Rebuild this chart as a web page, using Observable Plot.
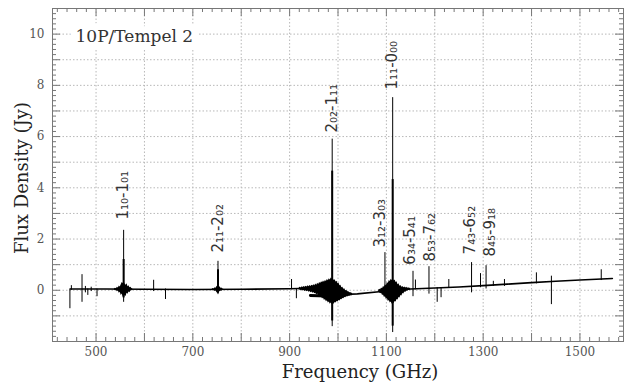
<!DOCTYPE html>
<html><head><meta charset="utf-8">
<script src="https://cdn.jsdelivr.net/npm/d3@7"></script>
<script src="https://cdn.jsdelivr.net/npm/@observablehq/plot@0.6"></script>
<style>body{margin:0;background:#fff;}</style>
</head><body><div id="chart"></div>
<script>
// ---- data ----
const titleText = "10P/Tempel 2";
const xLabel = "Frequency (GHz)";
const yLabel = "Flux Density (Jy)";
const xLabelTicks = [500, 700, 900, 1100, 1300, 1500];
const yLabelTicks = [0, 2, 4, 6, 8, 10];

// continuum / baseline of the spectrum
const baseFreq = [447, 480, 520, 600, 700, 800, 900, 940, 985, 991, 1040, 1090, 1113, 1150, 1200, 1250, 1300, 1350, 1400, 1450, 1500, 1567];
const baseFlux = [0.05, 0.05, 0.05, 0.04, 0.03, 0.04, 0.06, 0.08, 0.06, -0.18, -0.14, -0.05, 0.0, 0.05, 0.09, 0.13, 0.18, 0.24, 0.30, 0.35, 0.40, 0.46];

// second (overlapping) band segment
const bandFreq = [943, 960, 975, 988];
const bandFlux = [-0.20, -0.21, -0.22, -0.20];

// narrow spectral spikes
const spikeFreq = [446, 449, 471, 478, 483, 490, 502, 557, 619, 643.5, 752, 904, 914, 988, 1097, 1113, 1155, 1160, 1188, 1205, 1213, 1229, 1276, 1294.5, 1306, 1321, 1344, 1410, 1441, 1544];
const spikeLow = [-0.72, 0.0, -0.47, -0.1, -0.2, -0.05, -0.25, -0.47, -0.05, -0.36, -0.17, 0.02, -0.33, -1.42, -0.1, -1.65, -0.25, 0.02, -0.15, -0.47, -0.29, 0.08, -0.1, 0.1, 0.05, 0.15, 0.15, 0.25, -0.56, 0.38];
const spikeHigh = [0.05, 0.18, 0.61, 0.15, 0.05, 0.12, 0.04, 2.34, 0.39, 0.05, 1.13, 0.42, 0.05, 5.9, 1.47, 7.52, 0.74, 0.40, 0.92, 0.10, 0.10, 0.42, 1.08, 0.65, 0.96, 0.35, 0.42, 0.68, 0.55, 0.80];

// thick cores of the strong lines (second overlaid spectrum)
const coreFreq = [557, 752, 988, 1113];
const coreLow = [-0.3, -0.12, -1.2, -1.4];
const coreHigh = [1.2, 0.8, 4.65, 4.32];

// noise bursts around the strong lines (upper / lower extent)
const burst557Freq = [538,540,542,544,546,548,550,552,554,556,558,560,562,564,566,568,570,572,574,576];
const burst557High = [0.05,0.08,0.06,0.12,0.09,0.17,0.13,0.22,0.3,0.26,0.33,0.24,0.2,0.25,0.14,0.18,0.1,0.12,0.07,0.05];
const burst557Low = [0.01,-0.02,0.0,-0.06,-0.03,-0.12,-0.08,-0.2,-0.15,-0.26,-0.3,-0.2,-0.24,-0.12,-0.16,-0.07,-0.1,-0.03,-0.02,0.01];

const burst752Freq = [740,742,744,746,748,750,752,754,756,758,760,762,764];
const burst752High = [0.04,0.07,0.05,0.1,0.08,0.15,0.17,0.12,0.14,0.08,0.09,0.05,0.04];
const burst752Low = [0.0,-0.02,0.0,-0.05,-0.03,-0.1,-0.12,-0.08,-0.06,-0.03,-0.04,0.0,0.01];

const burst988Freq = [920,922,924,926,928,930,932,934,936,938,940,942,944,946,948,950,952,954,956,958,960,962,964,966,968,970,972,974,976,978,980,982,984,986,988,990,992,994,996,998,1000,1002,1004,1006,1008,1010,1012,1014,1016,1018,1020,1022,1024,1026,1028,1030];
const burst988High = [0.1,0.12,0.09,0.14,0.11,0.15,0.12,0.16,0.13,0.18,0.14,0.19,0.15,0.2,0.17,0.22,0.18,0.24,0.2,0.27,0.23,0.3,0.26,0.33,0.29,0.36,0.31,0.38,0.34,0.42,0.37,0.45,0.4,0.48,0.44,0.46,0.38,0.41,0.32,0.35,0.25,0.28,0.18,0.2,0.1,0.12,0.04,0.06,-0.02,0.0,-0.06,-0.05,-0.1,-0.09,-0.12,-0.12];
const burst988Low = [0.0,0.01,-0.02,0.0,-0.03,-0.01,-0.05,-0.02,-0.06,-0.03,-0.08,-0.05,-0.1,-0.07,-0.12,-0.09,-0.14,-0.12,-0.18,-0.15,-0.22,-0.2,-0.28,-0.25,-0.34,-0.3,-0.4,-0.36,-0.45,-0.41,-0.5,-0.46,-0.55,-0.5,-0.56,-0.52,-0.55,-0.48,-0.5,-0.44,-0.46,-0.4,-0.42,-0.36,-0.37,-0.32,-0.33,-0.28,-0.29,-0.25,-0.26,-0.23,-0.24,-0.21,-0.22,-0.2];

const burst1113Freq = [1084,1086,1088,1090,1092,1094,1096,1098,1100,1102,1104,1106,1108,1110,1112,1114,1116,1118,1120,1122,1124,1126,1128,1130,1132,1134,1136,1138,1140,1142,1144,1146,1148,1150];
const burst1113High = [0.0,0.04,0.02,0.09,0.06,0.15,0.12,0.22,0.18,0.3,0.26,0.38,0.34,0.43,0.38,0.44,0.36,0.4,0.3,0.33,0.22,0.25,0.16,0.19,0.12,0.15,0.1,0.13,0.09,0.12,0.08,0.1,0.07,0.09];
const burst1113Low = [-0.07,-0.1,-0.14,-0.12,-0.2,-0.18,-0.28,-0.25,-0.36,-0.32,-0.44,-0.4,-0.5,-0.46,-0.55,-0.5,-0.52,-0.44,-0.46,-0.36,-0.38,-0.28,-0.3,-0.2,-0.22,-0.13,-0.15,-0.07,-0.09,-0.03,-0.05,0.0,-0.01,0.02];

// transition labels
const labelText = ["1₁₀-1₀₁", "2₁₁-2₀₂", "2₀₂-1₁₁", "1₁₁-0₀₀", "3₁₂-3₀₃", "6₃₄-5₄₁", "8₅₃-7₆₂", "7₄₃-6₅₂", "8₄₅-9₁₈"];
const labelFreq = [557, 752, 988, 1113, 1088, 1150, 1191, 1274, 1315];
const labelFlux = [2.76, 1.47, 6.16, 7.84, 1.67, 1.0, 1.12, 1.4, 1.32];

// ---- layout ----
const W = 624, H = 383;
const mL = 52, mR = 1, mT = 8, mB = 42;
const fw = W - mL - mR, fh = H - mT - mB;
const xDomain = [410, 1590], yDomain = [-2, 11];

const xMajor = d3.range(500, 1501, 100);
const xMinor = d3.range(420, 1590, 20).filter(v => v % 100 !== 0);
const yMajor = d3.range(-1, 11, 1);
const yMinor = d3.range(-10, 56).map(i => i / 5).filter(v => !Number.isInteger(v));

const base = baseFreq.map((f, i) => ({f, v: baseFlux[i]}));
const band = bandFreq.map((f, i) => ({f, v: bandFlux[i]}));
const spikes = spikeFreq.map((f, i) => ({f, lo: spikeLow[i], hi: spikeHigh[i]}));
const cores = coreFreq.map((f, i) => ({f, lo: coreLow[i], hi: coreHigh[i]}));
const bursts = [
  [burst557Freq, burst557High, burst557Low],
  [burst752Freq, burst752High, burst752Low],
  [burst988Freq, burst988High, burst988Low],
  [burst1113Freq, burst1113High, burst1113Low]
].flatMap(([F, Hi, Lo], g) => F.map((f, i) => ({g, f, hi: Hi[i], lo: Lo[i]})));
const labels = labelText.map((t, i) => ({t, f: labelFreq[i], v: labelFlux[i]}));

const tickColor = "#777";
const chart = Plot.plot({
  width: W, height: H,
  marginLeft: mL, marginRight: mR, marginTop: mT, marginBottom: mB,
  x: {domain: xDomain, axis: null},
  y: {domain: yDomain, axis: null},
  style: {fontFamily: "DejaVu Serif", background: "white"},
  marks: [
    Plot.ruleX(xMajor, {stroke: "#b8b8b8", strokeDasharray: "1.5,2"}),
    Plot.ruleY(yMajor, {stroke: "#b8b8b8", strokeDasharray: "1.5,2"}),
    Plot.text([titleText], {frameAnchor: "top-left", dx: 23, dy: 28, textAnchor: "start", lineAnchor: "middle", fontSize: 17, fill: "#333", stroke: "white", strokeWidth: 14}),
    Plot.areaY(bursts, {x: "f", y1: "lo", y2: "hi", z: "g", fill: "black", curve: "linear"}),
    Plot.line(base, {x: "f", y: "v", stroke: "black", strokeWidth: 1.6}),
    Plot.line(band, {x: "f", y: "v", stroke: "black", strokeWidth: 3}),
    Plot.ruleX(spikes, {x: "f", y1: "lo", y2: "hi", stroke: "black", strokeWidth: 1}),
    Plot.ruleX(cores, {x: "f", y1: "lo", y2: "hi", stroke: "black", strokeWidth: 2}),
    Plot.text(labels, {x: "f", y: "v", text: "t", rotate: -90, textAnchor: "start", lineAnchor: "middle", fontFamily: "DejaVu Sans", fontSize: 15, fill: "#333"}),
    Plot.frame({stroke: tickColor}),
    // inward ticks on all four sides
    Plot.tickX(xMajor, {x: d => d, stroke: tickColor, insetTop: fh - 8}),
    Plot.tickX(xMinor, {x: d => d, stroke: tickColor, insetTop: fh - 4}),
    Plot.tickX(xMajor, {x: d => d, stroke: tickColor, insetBottom: fh - 8}),
    Plot.tickX(xMinor, {x: d => d, stroke: tickColor, insetBottom: fh - 4}),
    Plot.tickY(yMajor, {y: d => d, stroke: tickColor, insetRight: fw - 8}),
    Plot.tickY(yMinor, {y: d => d, stroke: tickColor, insetRight: fw - 4}),
    Plot.tickY(yMajor, {y: d => d, stroke: tickColor, insetLeft: fw - 8}),
    Plot.tickY(yMinor, {y: d => d, stroke: tickColor, insetLeft: fw - 4}),
    // tick labels
    Plot.text(xLabelTicks, {x: d => d, text: d => String(d), frameAnchor: "bottom", dy: 11, textAnchor: "middle", lineAnchor: "middle", fontSize: 12, fill: "#555"}),
    Plot.text(yLabelTicks, {y: d => d, text: d => String(d), frameAnchor: "left", dx: -8, textAnchor: "end", lineAnchor: "middle", fontSize: 12, fill: "#555"}),
    // axis titles
    Plot.text([xLabel], {frameAnchor: "bottom", dx: 22, dy: 31, textAnchor: "middle", lineAnchor: "middle", fontSize: 18, fill: "#222"}),
    Plot.text([yLabel], {frameAnchor: "left", dx: -30, dy: 3, rotate: -90, textAnchor: "middle", lineAnchor: "middle", fontSize: 18, fill: "#222"})
  ]
});
document.getElementById("chart").appendChild(chart);
</script>
</body></html>
